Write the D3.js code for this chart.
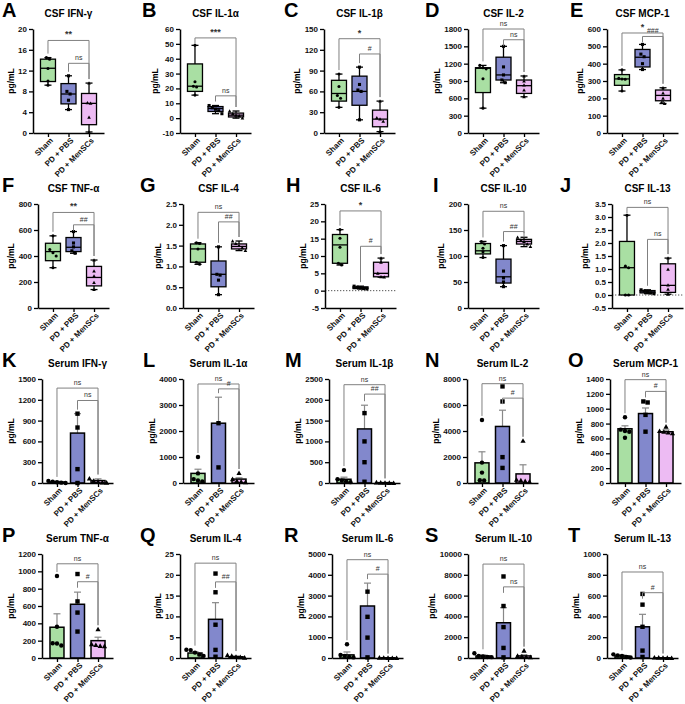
<!DOCTYPE html>
<html><head><meta charset="utf-8">
<script src="https://cdn.jsdelivr.net/npm/d3@7"></script>
<style>body{margin:0;background:#fff} svg{display:block} text{font-family:"Liberation Sans",Arial,sans-serif}</style>
</head><body><svg id="c" width="685" height="704"></svg>
<script>
const groups = ["Sham","PD + PBS","PD + MenSCs"];

// ---------- CSF (box plots): [min, q1, median, q3, max] ----------
const csfIFNgBox = [[9.2,9.9,12.45,14.2,14.5],[4.5,5.6,7.5,9.5,11.0],[0.2,1.6,5.7,7.6,9.6]];
const csfIFNgPts = [[14.5,14.2,12.4,10.0,9.2],[11.0,8.0,7.5,6.3,4.5],[9.6,5.8,5.7,3.0,0.2]];
const csfIL1aBox = [[15.5,18,21.5,36.5,49],[3,4.5,6.5,7.8,8.5],[0,0.8,2,3.4,4.8]];
const csfIL1aPts = [[49,24.5,21.5,21,15.5],[8.5,7,6,5,3],[4.8,3,2,1.5,0]];
const csfIL1bBox = [[37,46,57,76,85],[19,40,60,82,95],[2,9,20,33,46]];
const csfIL1bPts = [[85,67,54,50,37],[95,70,62,60,19],[46,22,20,17,2]];
const csfIL2Box = [[430,700,1120,1130,1170],[870,917,1005,1312,1500],[627,685,819,917,987]];
const csfIL2Pts = [[1170,1130,1110,940,430],[1500,1144,1005,917,871],[987,900,830,743,627]];
const csfMCP1Box = [[242,275,312,337,364],[366,381,437,482,511],[170,186,217,248,261]];
const csfMCP1Pts = [[364,315,312,310,242],[511,455,440,400,366],[261,230,200,175,170]];
const csfTNFaBox = [[310,364,434,498,555],[421,434,467,542,588],[142,170,235,320,369]];
const csfTNFaPts = [[555,450,425,400,310],[588,500,470,440,421],[369,285,245,195,142]];
const csfIL4Box = [[1.05,1.10,1.42,1.54,1.57],[0.32,0.51,0.81,1.13,1.47],[1.38,1.42,1.48,1.54,1.61]];
const csfIL4Pts = [[1.57,1.55,1.42,1.10,1.05],[1.47,0.81,0.79,0.67,0.32],[1.61,1.55,1.50,1.45,1.38]];
const csfIL6Box = [[7.4,7.9,13.2,16.2,17.6],[0.5,0.6,0.85,1.1,1.3],[3.9,4.0,5.0,8.2,9.4]];
const csfIL6Pts = [[17.6,15.1,12.5,7.9,7.4],[1.3,1.0,0.8,0.6,0.5],[9.4,8.2,5.0,4.0,3.9]];
const csfIL10Box = [[97,104,110,124,128],[41,48,60,94,120],[118,123,128,132,136]];
const csfIL10Pts = [[128,123,115,108,97],[120,71,58,50,41],[136,130,128,123,118]];
const csfIL13Box = [[0,0,1.05,2.06,3.07],[0.05,0.08,0.12,0.17,0.2],[0.03,0.1,0.37,1.2,1.42]];
const csfIL13Pts = [[3.07,1.11,1.05,0,0],[0.2,0.15,0.12,0.08,0.05],[1.42,0.99,0.38,0.22,0.03]];

// ---------- Serum (bar = mean, err = mean + SEM) ----------
const serIFNgMean = [15,720,35],   serIFNgErr = [25,1000,60];
const serIFNgPts = [[30,20,10,5,0],[1000,800,200,0],[65,30,20,10,5]];
const serIL1aMean = [370,2300,150], serIL1aErr = [530,3300,200];
const serIL1aPts = [[1000,370,150,100,60],[2300,600],[385,150,80,50,30]];
const serIL1bMean = [90,1300,8],    serIL1bErr = [140,1870,12];
const serIL1bPts = [[310,90,60,40,20],[1680,1000,500,30],[15,10,5,3,0]];
const serIL2Mean = [1550,4350,700], serIL2Err = [2400,5600,1400];
const serIL2Pts = [[4850,1570,800,210,200],[7430,6270,1990,1160],[3250,250,200,150,100]];
const serMCP1Mean = [730,935,690],  serMCP1Err = [770,1010,715];
const serMCP1Pts = [[885,718,700,690,610],[1098,1084,917,691],[759,700,690,680,670]];
const serTNFaMean = [355,620,200],  serTNFaErr = [510,760,240];
const serTNFaPts = [[946,360,170,168,145],[969,653,524,305],[332,160,150,140,137]];
const serIL4Mean = [1.2,9.3,0.3],   serIL4Err = [1.55,13.3,0.5];
const serIL4Pts = [[2.0,1.9,1.3,0.8,0.5],[20.3,15.8,8.0,1.95,0.3],[0.7,0.5,0.3,0.2,0.1]];
const serIL6Mean = [150,2500,10],   serIL6Err = [290,3600,15];
const serIL6Pts = [[660,150,100,50,30],[3190,1980,980,30],[20,10,5,0,0]];
const serIL10Mean = [200,3390,200], serIL10Err = [300,4840,300];
const serIL10Pts = [[450,200,150,100,80],[7840,5000,2970,970,60],[710,200,150,100,80]];
const serIL13Mean = [20,300,2],     serIL13Err = [30,420,3];
const serIL13Pts = [[35,25,20,10,5],[616,513,300,71,10],[5,3,2,1,0]];

// ---------- tick values ----------
const tIFNg = [0,4,8,12,16,20], tIL1a = [-10,0,10,20,30,40,50,60], tIL1b = [0,30,60,90,120,150];
const tIL2 = [0,300,600,900,1200,1500,1800], tMCP1 = [0,100,200,300,400,500,600];
const tTNFa = [0,200,400,600,800], tIL4 = [0,0.5,1.0,1.5,2.0,2.5], tIL6 = [-5,0,5,10,15,20,25];
const tIL10 = [0,50,100,150,200], tIL13 = [-0.5,0,0.5,1.0,1.5,2.0,2.5,3.0,3.5];
const tsIFNg = [0,300,600,900,1200,1500], tsIL1a = [0,1000,2000,3000,4000], tsIL1b = [0,500,1000,1500,2000,2500];
const tsIL2 = [0,2000,4000,6000,8000], tsMCP1 = [0,200,400,600,800,1000,1200,1400];
const tsTNFa = [0,200,400,600,800,1000,1200], tsIL4 = [0,5,10,15,20,25], tsIL6 = [0,1000,2000,3000,4000,5000];
const tsIL10 = [0,2000,4000,6000,8000,10000], tsIL13 = [0,200,400,600,800,1000];

// ---------- significance brackets: [groupA, groupB, level, label] ----------
const bIFNg = [[0,2,17.8,"**"],[1,2,13.4,"ns"]], bIL1a = [[0,2,54,"***"],[1,2,15,"ns"]];
const bIL1b = [[0,2,136,"*"],[1,2,114,"#"]], bIL2 = [[0,2,1800,"ns"],[1,2,1614,"ns"]];
const bMCP1 = [[0,2,577,"*"],[1,2,557,"###"]], bTNFa = [[0,2,735,"**"],[1,2,640,"##"]];
const bIL4 = [[0,2,2.3,"ns"],[1,2,2.07,"##"]], bIL6 = [[0,2,23,"*"],[1,2,12.8,"#"]];
const bIL10 = [[0,2,186,"ns"],[1,2,147,"##"]], bIL13 = [[0,2,3.37,"ns"],[1,2,2.14,"ns"]];
const bsIFNg = [[0,2,1369,"ns"],[1,2,1190,"ns"]], bsIL1a = [[0,2,3808,"ns"],[1,2,3620,"#"]];
const bsIL1b = [[0,2,2363,"ns"],[1,2,2137,"##"]], bsIL2 = [[0,2,7639,"ns"],[1,2,6529,"#"]];
const bsMCP1 = [[0,2,1391,"ns"],[1,2,1233,"#"]], bsTNFa = [[0,2,1087,"ns"],[1,2,880,"#"]];
const bsIL4 = [[0,2,22.8,"ns"],[1,2,18.3,"##"]], bsIL6 = [[0,2,4726,"ns"],[1,2,4032,"#"]];
const bsIL10 = [[0,2,9032,"ns"],[1,2,6839,"ns"]], bsIL13 = [[0,2,827,"ns"],[1,2,628,"#"]];

const panels = [
 {L:"A",title:"CSF IFN-γ",box:csfIFNgBox,pts:csfIFNgPts,ticks:tIFNg,br:bIFNg},
 {L:"B",title:"CSF IL-1α",box:csfIL1aBox,pts:csfIL1aPts,ticks:tIL1a,br:bIL1a},
 {L:"C",title:"CSF IL-1β",box:csfIL1bBox,pts:csfIL1bPts,ticks:tIL1b,br:bIL1b},
 {L:"D",title:"CSF IL-2",box:csfIL2Box,pts:csfIL2Pts,ticks:tIL2,br:bIL2},
 {L:"E",title:"CSF MCP-1",box:csfMCP1Box,pts:csfMCP1Pts,ticks:tMCP1,br:bMCP1},
 {L:"F",title:"CSF TNF-α",box:csfTNFaBox,pts:csfTNFaPts,ticks:tTNFa,br:bTNFa},
 {L:"G",title:"CSF IL-4",box:csfIL4Box,pts:csfIL4Pts,ticks:tIL4,br:bIL4},
 {L:"H",title:"CSF IL-6",box:csfIL6Box,pts:csfIL6Pts,ticks:tIL6,br:bIL6,zero:true},
 {L:"I",title:"CSF IL-10",box:csfIL10Box,pts:csfIL10Pts,ticks:tIL10,br:bIL10},
 {L:"J",title:"CSF IL-13",box:csfIL13Box,pts:csfIL13Pts,ticks:tIL13,br:bIL13,zero:true},
 {L:"K",title:"Serum IFN-γ",mean:serIFNgMean,err:serIFNgErr,pts:serIFNgPts,ticks:tsIFNg,br:bsIFNg},
 {L:"L",title:"Serum IL-1α",mean:serIL1aMean,err:serIL1aErr,pts:serIL1aPts,ticks:tsIL1a,br:bsIL1a},
 {L:"M",title:"Serum IL-1β",mean:serIL1bMean,err:serIL1bErr,pts:serIL1bPts,ticks:tsIL1b,br:bsIL1b},
 {L:"N",title:"Serum IL-2",mean:serIL2Mean,err:serIL2Err,pts:serIL2Pts,ticks:tsIL2,br:bsIL2},
 {L:"O",title:"Serum MCP-1",mean:serMCP1Mean,err:serMCP1Err,pts:serMCP1Pts,ticks:tsMCP1,br:bsMCP1},
 {L:"P",title:"Serum TNF-α",mean:serTNFaMean,err:serTNFaErr,pts:serTNFaPts,ticks:tsTNFa,br:bsTNFa},
 {L:"Q",title:"Serum IL-4",mean:serIL4Mean,err:serIL4Err,pts:serIL4Pts,ticks:tsIL4,br:bsIL4},
 {L:"R",title:"Serum IL-6",mean:serIL6Mean,err:serIL6Err,pts:serIL6Pts,ticks:tsIL6,br:bsIL6},
 {L:"S",title:"Serum IL-10",mean:serIL10Mean,err:serIL10Err,pts:serIL10Pts,ticks:tsIL10,br:bsIL10},
 {L:"T",title:"Serum IL-13",mean:serIL13Mean,err:serIL13Err,pts:serIL13Pts,ticks:tsIL13,br:bsIL13}
];

// ---------- layout ----------
const colors = ["#a9dfa3","#8288cc","#edbbf3"];
const rowTop = [29,204,379,554], plotH = 104, plotW = 71;
const axisXs = [[33,180,324,468,607],[38,183,325,468,612],[42,183,329,467,610],[42,180,332,468,607]];
const letterXs = [[2,142,284,425,570],[2,140,286,433,560],[2,143,285,425,568],[2,140,284,425,568]];

const svg = d3.select("#c");

function shape(g, gi, cx, cy, big) {
  const s = big ? 1 : 0.7;
  if (gi === 0) g.append("circle").attr("cx",cx).attr("cy",cy).attr("r",2.2*s).attr("fill","#000");
  else if (gi === 1) g.append("rect").attr("x",cx-2.2*s).attr("y",cy-2.2*s).attr("width",4.4*s).attr("height",4.4*s).attr("fill","#000");
  else { const h = 2.6*s;
    g.append("path").attr("d",`M${cx},${cy-h}L${cx+h},${cy+h*0.8}L${cx-h},${cy+h*0.8}Z`).attr("fill","#000"); }
}

panels.forEach((p,k) => {
  const r = Math.floor(k/5), c = k%5;
  const x0 = axisXs[r][c], top = rowTop[r], bot = top + plotH;
  const dom = [p.ticks[0], p.ticks[p.ticks.length-1]];
  const y = d3.scaleLinear().domain(dom).range([bot, top]);
  const x = d3.scalePoint().domain(groups).range([x0, x0+plotW]).padding(0.73);
  const g = svg.append("g");
  const dec = p.ticks.some(v => !Number.isInteger(v));
  const fmt = v => dec ? v.toFixed(1) : String(v);

  // panel letter & title
  g.append("text").attr("x",letterXs[r][c]).attr("y",top-12).attr("font-size",20).attr("font-weight","bold").text(p.L);
  g.append("text").attr("x",x0+plotW/2).attr("y",top-12).attr("text-anchor","middle").attr("font-size",10).attr("font-weight","bold").text(p.title);

  // zero line
  if (p.zero) g.append("line").attr("x1",x0).attr("x2",x0+plotW).attr("y1",y(0)).attr("y2",y(0))
      .attr("stroke","#555").attr("stroke-width",1).attr("stroke-dasharray","1.3,1.7");

  const tops = [];
  if (p.box) {
    p.box.forEach((b,gi) => {
      const cx = x(groups[gi]), w = 15, cw = 7;
      g.append("line").attr("x1",cx).attr("x2",cx).attr("y1",y(b[0])).attr("y2",y(b[4])).attr("stroke","#000").attr("stroke-width",1.3);
      g.append("line").attr("x1",cx-cw/2).attr("x2",cx+cw/2).attr("y1",y(b[0])).attr("y2",y(b[0])).attr("stroke","#000").attr("stroke-width",1.3);
      g.append("line").attr("x1",cx-cw/2).attr("x2",cx+cw/2).attr("y1",y(b[4])).attr("y2",y(b[4])).attr("stroke","#000").attr("stroke-width",1.3);
      g.append("rect").attr("x",cx-w/2).attr("y",y(b[3])).attr("width",w).attr("height",Math.max(0.5,y(b[1])-y(b[3])))
        .attr("fill",colors[gi]).attr("stroke","#000").attr("stroke-width",1.3);
      g.append("line").attr("x1",cx-w/2).attr("x2",cx+w/2).attr("y1",y(b[2])).attr("y2",y(b[2])).attr("stroke","#000").attr("stroke-width",1.3);
      tops.push(Math.min(y(b[4]), y(d3.max(p.pts[gi]))));
    });
  } else {
    p.mean.forEach((m,gi) => {
      const cx = x(groups[gi]), w = 14, cw = 7;
      g.append("line").attr("x1",cx).attr("x2",cx).attr("y1",y(m)).attr("y2",y(p.err[gi])).attr("stroke","#888").attr("stroke-width",1.2);
      g.append("line").attr("x1",cx-cw/2).attr("x2",cx+cw/2).attr("y1",y(p.err[gi])).attr("y2",y(p.err[gi])).attr("stroke","#888").attr("stroke-width",1.2);
      g.append("rect").attr("x",cx-w/2).attr("y",y(m)).attr("width",w).attr("height",Math.max(0.3,y(0)-y(m)))
        .attr("fill",colors[gi]).attr("stroke","#000").attr("stroke-width",1.5);
      tops.push(Math.min(y(p.err[gi]), y(d3.max(p.pts[gi]))));
    });
  }

  // points (simple spreading of overlapping values)
  p.pts.forEach((arr,gi) => {
    const cx = x(groups[gi]);
    const ys = arr.map(v => y(v)).sort((a,b) => a-b);
    const clusters = [];
    ys.forEach(py => {
      const last = clusters[clusters.length-1];
      if (last && py - last[last.length-1] < 3.6) last.push(py); else clusters.push([py]);
    });
    clusters.forEach(cl => cl.forEach((py,i) => shape(g, gi, cx + (i-(cl.length-1)/2)*(p.box?3.2:4.3), py, !p.box)));
  });

  // axes
  const ya = g.append("g").attr("transform",`translate(${x0},0)`)
    .call(d3.axisLeft(y).tickValues(p.ticks).tickSize(4).tickSizeOuter(0).tickPadding(2).tickFormat(fmt));
  ya.select(".domain").attr("stroke-width",1.5);
  ya.selectAll(".tick line").attr("stroke-width",1.3);
  ya.selectAll("text").attr("font-size",8).attr("font-weight","bold").attr("fill","#111").style("font-family","Liberation Sans, Arial, sans-serif");
  const xa = g.append("g").attr("transform",`translate(0,${bot})`)
    .call(d3.axisBottom(x).tickSize(4).tickSizeOuter(0));
  xa.select(".domain").attr("stroke-width",1.5);
  xa.selectAll(".tick line").attr("stroke-width",1.3);
  xa.selectAll("text").attr("x",0).attr("y",0).attr("dy","0.35em").attr("transform","translate(3,6) rotate(-45)")
    .style("text-anchor","end").attr("font-size",8).attr("font-weight","bold").attr("fill","#111").style("font-family","Liberation Sans, Arial, sans-serif");

  // y label
  const bb = ya.node().getBBox();
  const lx = x0 + bb.x - 4.5;
  g.append("text").attr("transform",`translate(${lx},${(top+bot)/2}) rotate(-90)`).attr("text-anchor","middle")
    .attr("font-size",8.5).attr("font-weight","bold").text("pg/mL");

  // brackets
  p.br.forEach(([a,b,lev,lab]) => {
    const xa_ = x(groups[a]), xb = x(groups[b]), ly = y(lev);
    const leg = t => { let e = t - 4; if (e < ly + 4) e = ly + 6; return e; };
    g.append("path").attr("d",`M${xa_},${leg(tops[a])}V${ly}H${xb}V${leg(tops[b])}`)
      .attr("fill","none").attr("stroke","#808080").attr("stroke-width",1);
    const isStar = lab.includes("*");
    g.append("text").attr("x",(xa_+xb)/2).attr("y",ly-3).attr("text-anchor","middle")
      .attr("font-size",isStar?9:7).attr("font-weight",isStar?"bold":"normal").attr("fill","#333").text(lab);
  });
});
</script></body></html>
